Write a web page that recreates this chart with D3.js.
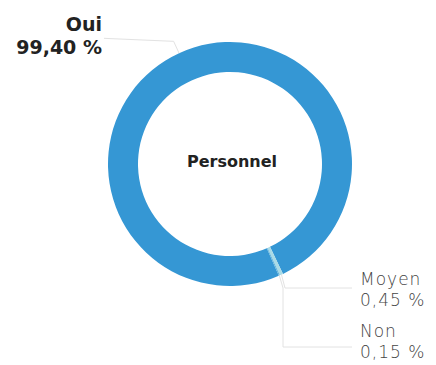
<!DOCTYPE html>
<html><head><meta charset="utf-8">
<script src="https://cdn.jsdelivr.net/npm/d3@7"></script>
<style>html,body{margin:0;padding:0;background:#fff;}svg{display:block;}</style>
</head><body>
<svg id="c" width="436" height="365"></svg>
<script>
const categories = ["Oui", "Moyen", "Non"];
const values = [99.40, 0.45, 0.15];
const valueLabels = ["99,40 %", "0,45 %", "0,15 %"];
const centerTitle = "Personnel";
const colors = ["#3597d4", "#aadbe6", "#5fb3dc"];

const svg = d3.select("#c");
const cx = 230, cy = 164, R = 122, r = 92;
const start = 156.4 * Math.PI / 180;

const pie = d3.pie().sort(null).value(d => d.v)
  .startAngle(start).endAngle(start + 2 * Math.PI);
const data = categories.map((c, i) => ({c, v: values[i], l: valueLabels[i], col: colors[i]}));
const arcs = pie(data);
const arc = d3.arc().innerRadius(r).outerRadius(R);
const g = svg.append("g").attr("transform", `translate(${cx},${cy})`);

g.selectAll("path.s").data(arcs).enter().append("path")
  .attr("d", arc).attr("fill", d => d.data.col);

g.append("text").attr("x", 2).attr("y", -2).attr("text-anchor", "middle")
  .attr("dominant-baseline", "middle")
  .style("font-family", "DejaVu Sans").style("font-weight", "bold").style("font-size", "16px")
  .attr("fill", "#222").text(centerTitle);

const outerPt = d => { const a = (d.startAngle + d.endAngle) / 2; return [R * Math.sin(a), -R * Math.cos(a)]; };
const elbowPt = (d, k) => { const a = (d.startAngle + d.endAngle) / 2; return [k * Math.sin(a), -k * Math.cos(a)]; };

const line = d3.line();
// Oui leader
const dO = arcs[0];
const eO = elbowPt(dO, 135);
g.append("path").attr("d", line([outerPt(dO), eO, [104 - cx, eO[1] - 3]]))
  .attr("fill", "none").attr("stroke", "#e2e2e2").attr("stroke-width", 1);
// Moyen leader
const dM = arcs[1];
g.append("path").attr("d", line([outerPt(dM), [285 - cx, 288 - cy], [352 - cx, 288 - cy]]))
  .attr("fill", "none").attr("stroke", "#e2e2e2").attr("stroke-width", 1);
// Non leader
const dN = arcs[2];
g.append("path").attr("d", line([outerPt(dN), [283 - cx, 288 - cy], [283 - cx, 347 - cy], [352 - cx, 347 - cy]]))
  .attr("fill", "none").attr("stroke", "#e2e2e2").attr("stroke-width", 1);

// Labels
const lab = svg.append("g");
const t0 = lab.append("text").attr("text-anchor", "end")
  .style("font-family", "DejaVu Sans").style("font-weight", "bold").style("font-size", "19px").attr("fill", "#222");
t0.append("tspan").attr("x", 102).attr("y", 31).text(arcs[0].data.c);
t0.append("tspan").attr("x", 102).attr("y", 54).text(arcs[0].data.l);

const pos = [null, [360, 285, 306], [360, 337, 358]];
[1, 2].forEach(i => {
  const t = lab.append("text").attr("text-anchor", "start")
    .style("font-family", "DejaVu Sans").style("font-weight", "200").style("font-size", "17px")
    .style("letter-spacing", "1px").attr("fill", "#444");
  t.append("tspan").attr("x", pos[i][0]).attr("y", pos[i][1]).text(arcs[i].data.c);
  t.append("tspan").attr("x", pos[i][0]).attr("y", pos[i][2]).text(arcs[i].data.l);
});
</script>
</body></html>
